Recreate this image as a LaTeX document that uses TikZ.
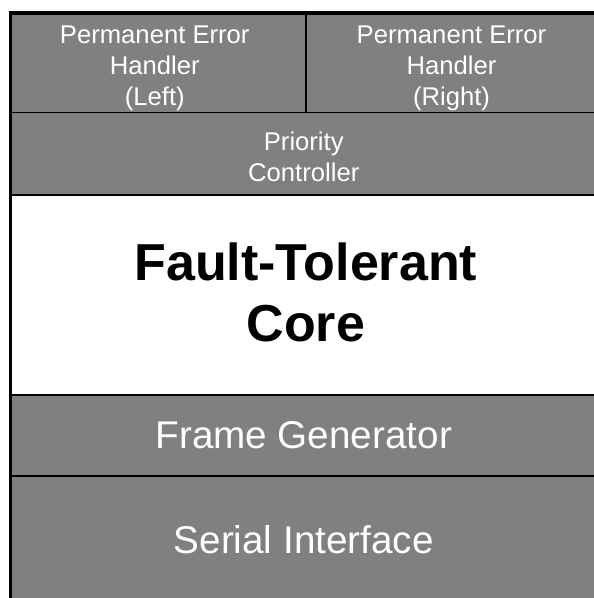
\documentclass[tikz,border=0pt]{standalone}
\usepackage{fontspec}
\setmainfont{Liberation Sans}
\usetikzlibrary{
  positioning,  % Function "of" (e.g. [below=of x])
}
\definecolor{layergray}{HTML}{808080}
\def\px{0.02cm}
\tikzset{
  layer/.style={
    draw=black,
    line width=1.1pt,
    fill=layergray,
    rectangle,
    inner sep=0pt,
    outer sep=0pt
  },
  core layer/.style={
    layer,
    fill=white
  },
  layer text/.style={
    text=white,
    align=center,
    inner sep=0pt
  },
  core text/.style={
    layer text,
    text=black,
    font=\fontsize{29.6}{35}\selectfont\bfseries
  },
  small text/.style={
    layer text,
    font=\fontsize{14.6}{17.7}\selectfont
  },
  big text/.style={
    layer text,
    font=\fontsize{22}{26}\selectfont
  },
  frame/.style={
    line width=2pt
  }
}
\begin{document}
\begin{tikzpicture}[x=\px,y=\px,node distance=0pt]
\useasboundingbox (0,0) rectangle (594,598);
\coordinate (topleft) at (10.5,585);
% layers, top to bottom
\node[layer,minimum width=295.5*\px,minimum height=99.5*\px,anchor=north west]
  (pehleft) at (topleft) {};
\node[layer,minimum width=291*\px,minimum height=99.5*\px,
  right=of pehleft.north east,anchor=north west] (pehright) {};
\node[layer,minimum width=586.5*\px,minimum height=82.5*\px,
  below=of pehleft.south west,anchor=north west] (prio) {};
\node[core layer,minimum width=586.5*\px,minimum height=200*\px,
  below=of prio.south west,anchor=north west] (core) {};
\node[layer,minimum width=586.5*\px,minimum height=81*\px,
  below=of core.south west,anchor=north west] (framegen) {};
\node[layer,minimum width=586.5*\px,minimum height=127*\px,
  below=of framegen.south west,anchor=north west] (serial) {};
% texts
\node[small text] (pehleft text)  at ([xshift=-3.5*\px,yshift=-5.3*\px]pehleft.center) {Permanent Error\\Handler\\(Left)};
\node[small text] (pehright text) at ([yshift=-5.3*\px]pehright.center) {Permanent Error\\Handler\\(Right)};
\node[small text] (prio text)     at ([yshift=-2.7*\px]prio.center)     {Priority\\Controller};
\node[core text]  (core text)     at ([xshift=2*\px,yshift=2.5*\px]core.center) {Fault-Tolerant\\Core};
\node[big text]   (framegen text) at (framegen.center) {Frame Generator};
\node[big text]   (serial text)   at (serial.center)   {Serial Interface};
\draw[frame] (pehleft.north west) rectangle (serial.south east);
\end{tikzpicture}
\end{document}
